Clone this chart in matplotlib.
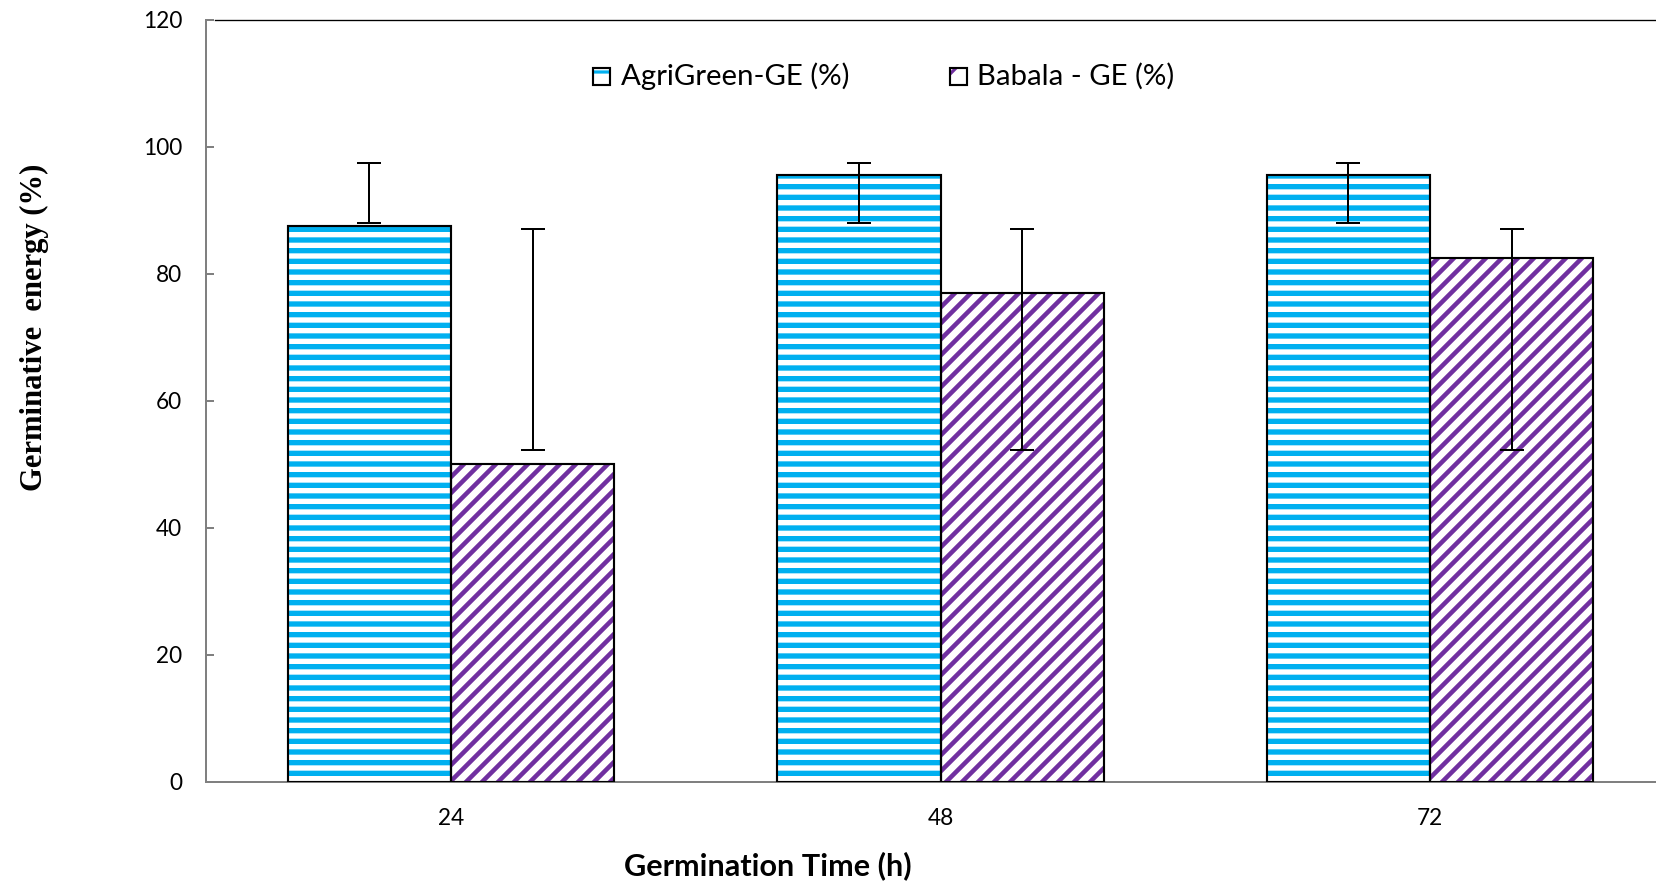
import matplotlib
matplotlib.use("Agg")
import matplotlib.pyplot as plt
import numpy as np
from matplotlib.patches import Rectangle

categories = ["24", "48", "72"]
agri_values = [87.6, 95.5, 95.5]
babala_values = [50.0, 77.0, 82.5]
agri_err_low = [88.0, 88.0, 88.0]
agri_err_high = [97.4, 97.4, 97.4]
babala_err_low = [52.3, 52.3, 52.3]
babala_err_high = [87.0, 87.0, 87.0]
series_labels = ["AgriGreen-GE (%)", "Babala - GE (%)"]
yticks = [0, 20, 40, 60, 80, 100, 120]

CYAN = "#00B0F0"
PURPLE = "#7030A0"
GRAY = "#808080"

DPI = 192
W, H = 1656, 885
fig = plt.figure(figsize=(W / DPI, H / DPI), dpi=DPI)
left, right = 206.3, 1674.8
bottom, top = 781.5, 20.0
ax = fig.add_axes([left / W, 1 - bottom / H, (right - left) / W, (bottom - top) / H])

x = np.arange(len(categories))
bw = 1 / 3

HATCHES = [("---", CYAN, 2.0), ("////", PURPLE, 1.7)]

def hatched_bars(xpos, vals, color, hatch, hlw):
    with plt.rc_context({"hatch.linewidth": hlw, "hatch.color": color}):
        ax.bar(xpos, vals, width=bw, facecolor="white", edgecolor=color,
               hatch=hatch, linewidth=0, zorder=2)
    ax.bar(xpos, vals, width=bw, fill=False, edgecolor="black", linewidth=0.8, zorder=3)

hatched_bars(x - bw / 2, agri_values, CYAN, HATCHES[0][0], HATCHES[0][2])
hatched_bars(x + bw / 2, babala_values, PURPLE, HATCHES[1][0], HATCHES[1][2])

def errbars(xpos, lo, hi):
    lo = np.array(lo); hi = np.array(hi)
    mid = (lo + hi) / 2
    ax.errorbar(xpos, mid, yerr=(hi - lo) / 2, fmt="none", ecolor="black",
                elinewidth=0.75, capsize=4.5, capthick=0.75, zorder=4)

errbars(x - bw / 2, agri_err_low, agri_err_high)
errbars(x + bw / 2, babala_err_low, babala_err_high)

ax.set_xlim(-0.5, len(categories) - 0.5)
ax.set_ylim(0, 120)
ax.set_yticks(yticks)
ax.set_xticks(x)
ax.set_xticklabels(categories)

for s in ["right", "top"]:
    ax.spines[s].set_visible(False)
for s in ["left", "bottom"]:
    ax.spines[s].set_color(GRAY)
    ax.spines[s].set_linewidth(0.75)
ax.axhline(120, xmin=0.006, xmax=1, color="black", linewidth=0.5, clip_on=False)

ax.tick_params(axis="y", direction="in", length=3, width=0.75, color=GRAY,
               labelsize=8.5, pad=9)
ax.tick_params(axis="x", length=0, labelsize=8.5, pad=10)
for lab in ax.get_xticklabels() + ax.get_yticklabels():
    lab.set_fontfamily("Lato")

fig.text(727 * W / 1568 / W, 1 - 866 / H, "Germination Time (h)", ha="center", va="center",
         fontsize=11.5, fontweight="bold", family="Lato")
fig.text(34 / W, 1 - 327 / H, "Germinative  energy (%)", ha="center", va="center",
         rotation=90, fontsize=11.5, fontweight="bold", family="Liberation Serif")

# legend (manual, figure pixel coordinates)
leg_items = [(593, 621), (950, 977)]
leg_y = 76
hs = 17
for (hx, tx), (hatch, color, hlw), label in zip(leg_items, HATCHES, series_labels):
    with plt.rc_context({"hatch.linewidth": 1.2, "hatch.color": color}):
        r1 = Rectangle((hx / W, 1 - (leg_y + hs / 2) / H), hs / W, hs / H,
                       transform=fig.transFigure, facecolor="white", edgecolor=color,
                       hatch=hatch[:2], linewidth=0)
    r2 = Rectangle((hx / W, 1 - (leg_y + hs / 2) / H), hs / W, hs / H,
                   transform=fig.transFigure, fill=False, edgecolor="black", linewidth=0.8)
    fig.patches.extend([r1, r2])
    fig.text(tx / W, 1 - leg_y / H, label, ha="left", va="center",
             fontsize=11, family="Lato")

fig.savefig("out.png", dpi=DPI)
